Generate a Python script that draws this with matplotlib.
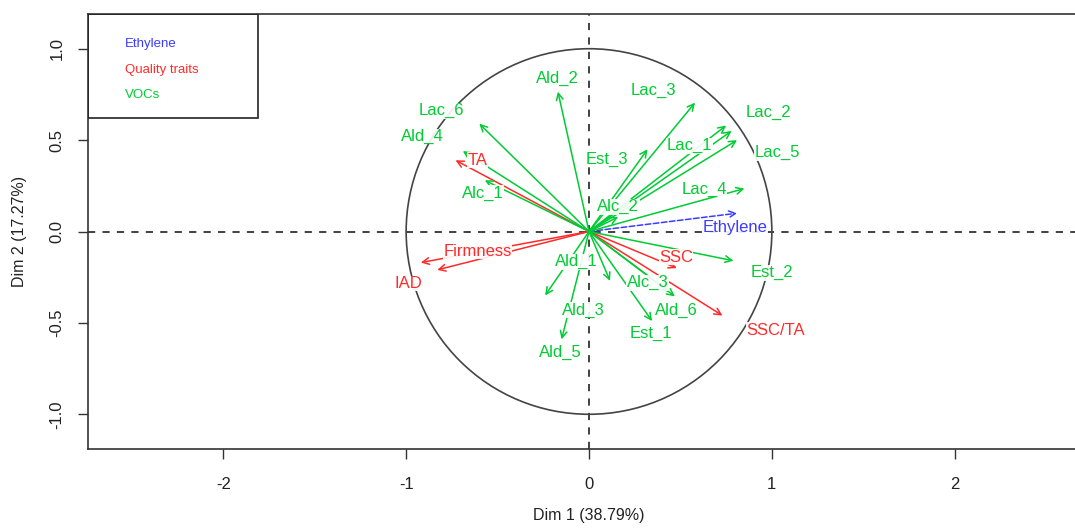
import matplotlib.pyplot as plt
from matplotlib.patches import Circle, Rectangle

plt.rcParams['font.family'] = ['Liberation Sans', 'DejaVu Sans']

# variable coordinates on Dim 1 / Dim 2 (arrow tips)
names = ['Ethylene', 'SSC', 'SSC/TA', 'Firmness', 'IAD', 'TA',
         'Est_2', 'Alc_3', 'Ald_6', 'Est_1', 'Ald_1', 'Ald_3', 'Ald_5',
         'Alc_1', 'Ald_4', 'Lac_6', 'Ald_2', 'Est_3', 'Lac_3', 'Lac_2',
         'Lac_1', 'Lac_5', 'Lac_4', 'Alc_2']
dim1 = [0.81, 0.48, 0.73, -0.83, -0.92, -0.73,
        0.79, 0.44, 0.47, 0.345, 0.115, -0.24, -0.15,
        -0.57, -0.69, -0.60, -0.17, 0.32, 0.58, 0.75,
        0.78, 0.81, 0.85, 0.16]
dim2 = [0.10, -0.20, -0.46, -0.21, -0.17, 0.39,
        -0.16, -0.33, -0.355, -0.49, -0.27, -0.35, -0.59,
        0.28, 0.44, 0.59, 0.765, 0.45, 0.705, 0.58,
        0.55, 0.50, 0.235, 0.08]
group = ['eth', 'qual', 'qual', 'qual', 'qual', 'qual',
         'voc', 'voc', 'voc', 'voc', 'voc', 'voc', 'voc',
         'voc', 'voc', 'voc', 'voc', 'voc', 'voc', 'voc',
         'voc', 'voc', 'voc', 'voc']
# where the labels sit (moved off the tips like in the original)
lab_x = [0.80, 0.475, 1.02, -0.61, -0.99, -0.61,
         1.00, 0.32, 0.48, 0.34, -0.07, -0.03, -0.155,
         -0.58, -0.91, -0.81, -0.175, 0.10, 0.35, 0.98,
         0.55, 1.03, 0.63, 0.16]
lab_y = [0.02, -0.14, -0.54, -0.11, -0.285, 0.39,
         -0.225, -0.28, -0.43, -0.56, -0.165, -0.43, -0.66,
         0.21, 0.52, 0.66, 0.835, 0.395, 0.77, 0.65,
         0.47, 0.43, 0.23, 0.135]

legend_names = ['Ethylene', 'Quality traits', 'VOCs']
cols = {'eth': '#3b3bff', 'qual': '#ff2b2b', 'voc': '#00cc33'}
legend_cols = [cols['eth'], cols['qual'], cols['voc']]

fig = plt.figure(figsize=(10.75, 5.29), dpi=100)
ax = fig.add_axes([88 / 1075, 80 / 529, 1002 / 1075, 435 / 529])

ax.axhline(0, color='#333333', ls=(0, (4, 4)), lw=1.3, zorder=1)
ax.axvline(0, color='#333333', ls=(0, (4, 4)), lw=1.3, zorder=1)
ax.add_patch(Circle((0, 0), 1, fill=False, ec='#444444', lw=1.2, zorder=1))

for i in range(len(names)):
    c = cols[group[i]]
    ls = '--' if group[i] == 'eth' else '-'
    ax.annotate('', xy=(dim1[i], dim2[i]), xytext=(0, 0),
                arrowprops=dict(arrowstyle='->', color=c, lw=1.1, ls=ls,
                                shrinkA=0, shrinkB=0, mutation_scale=12),
                zorder=2)
for i in range(len(names)):
    ax.text(lab_x[i], lab_y[i], names[i], color=cols[group[i]], fontsize=12,
            ha='center', va='center', zorder=3,
            bbox=dict(fc='white', ec='none', pad=0.3, alpha=0.9))

# legend box in the upper-left corner
ax.add_patch(Rectangle((0, 0.76), 0.17, 0.24, transform=ax.transAxes,
                       fill=False, ec='#222222', lw=1.2, zorder=4))
for j, (t, c) in enumerate(zip(legend_names, legend_cols)):
    ax.text(0.037, 0.93 - j * 0.058, t, color=c, fontsize=9.5,
            transform=ax.transAxes, ha='left', va='center')

ax.set_xlim(-2.74, 2.74)
ax.set_ylim(-1.19, 1.19)
ax.set_xticks([-2, -1, 0, 1, 2])
ax.set_xticklabels(['-2', '-1', '0', '1', '2'])
ax.set_yticks([-1, -0.5, 0, 0.5, 1])
ax.set_yticklabels(['-1.0', '-0.5', '0.0', '0.5', '1.0'], rotation=90, va='center')
ax.tick_params(length=7, width=1, colors='#333333', labelsize=12,
               labelcolor='#222222')
ax.tick_params(axis='x', pad=13)
ax.tick_params(axis='y', pad=10)
for s in ax.spines.values():
    s.set_color('#333333')
    s.set_linewidth(1.2)

ax.set_xlabel('Dim 1 (38.79%)', fontsize=11.5, labelpad=12, color='#222222')
ax.set_ylabel('Dim 2 (17.27%)', fontsize=11.5, labelpad=16, color='#222222')

fig.savefig('out.png', dpi=100)
